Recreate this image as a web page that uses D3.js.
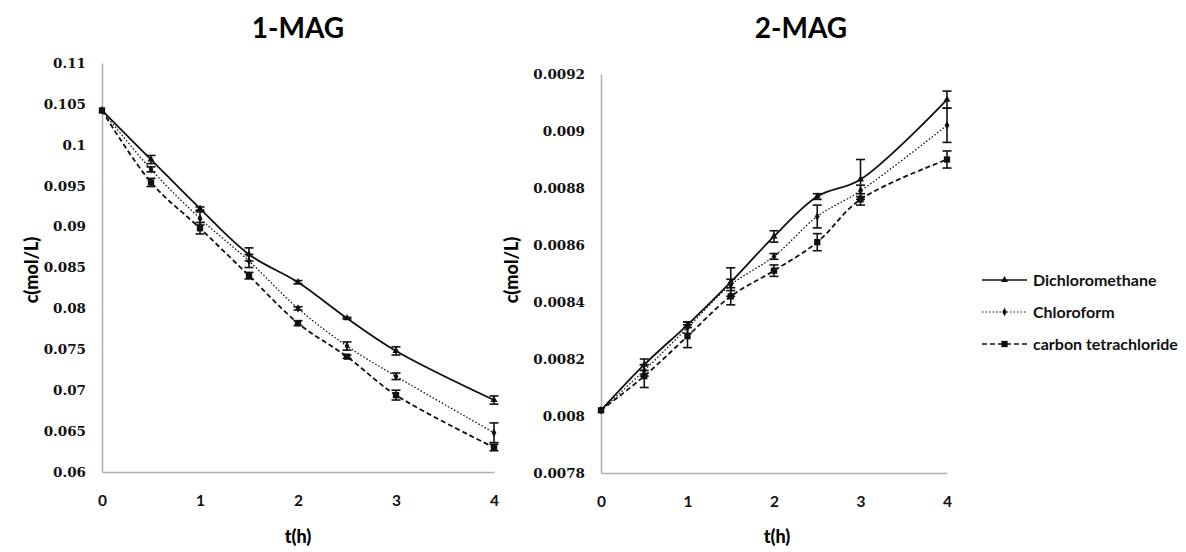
<!DOCTYPE html>
<html>
<head>
<meta charset="utf-8">
<script src="https://cdn.jsdelivr.net/npm/d3@7"></script>
<style>
  body { margin: 0; background: #fff; }
  svg { display: block; }
</style>
</head>
<body>
<div id="chart"></div>
<script>
var W = 1186, H = 552;

// shared time points
var times = [0, 0.5, 1, 1.5, 2, 2.5, 3, 4];
var xTicks = [0, 1, 2, 3, 4];
var seriesNames = ["Dichloromethane", "Chloroform", "carbon tetrachloride"];

// 1-MAG values and error (mol/L)
var mag1Dcm = [0.1042, 0.0982, 0.0922, 0.0866, 0.0832, 0.0788, 0.0748, 0.0688];
var mag1Chl = [0.1042, 0.0970, 0.0910, 0.0858, 0.0800, 0.0754, 0.0717, 0.0648];
var mag1Ctc = [0.1042, 0.0954, 0.0898, 0.0840, 0.0782, 0.0741, 0.0694, 0.0630];
var mag1DcmErr = [0, 0.0005, 0.0002, 0.0008, 0.0002, 0.0001, 0.0005, 0.0005];
var mag1ChlErr = [0, 0.0003, 0.0008, 0.0008, 0.0002, 0.0005, 0.0004, 0.0012];
var mag1CtcErr = [0, 0.0005, 0.0007, 0.0004, 0.0003, 0.0002, 0.0006, 0.0004];
var mag1Ticks = [0.06, 0.065, 0.07, 0.075, 0.08, 0.085, 0.09, 0.095, 0.1, 0.105, 0.11];

// 2-MAG values and error (mol/L)
var mag2Dcm = [0.00802, 0.00818, 0.00832, 0.00847, 0.00863, 0.00877, 0.00883, 0.00911];
var mag2Chl = [0.00802, 0.00816, 0.00831, 0.00846, 0.00856, 0.00870, 0.00879, 0.00902];
var mag2Ctc = [0.00802, 0.00814, 0.00828, 0.00842, 0.00851, 0.00861, 0.00876, 0.00890];
var mag2DcmErr = [0, 0.00002, 0.00001, 0.00005, 0.00002, 0.00001, 0.00007, 0.00003];
var mag2ChlErr = [0, 0.00002, 0.00002, 0.00002, 0.00001, 0.00004, 0.00002, 0.00006];
var mag2CtcErr = [0, 0.00004, 0.00004, 0.00003, 0.00002, 0.00003, 0.00002, 0.00003];
var mag2Ticks = [0.0078, 0.008, 0.0082, 0.0084, 0.0086, 0.0088, 0.009, 0.0092];

var dashes = [null, "1.5,2", "5,3"];
var shapes = [d3.symbolTriangle, d3.symbolDiamond, d3.symbolSquare];
var symSizes = [22, 20, 40];

var svg = d3.select("#chart").append("svg")
	.attr("width", W)
	.attr("height", H);

function drawPanel(opt) {
	var x = d3.scaleLinear().domain([0, 4]).range([opt.x0, opt.x1]);
	var y = d3.scaleLinear().domain(opt.domain).range([opt.y0, opt.y1]);
	var g = svg.append("g");

	// title
	g.append("text")
		.attr("x", opt.titleX)
		.attr("y", 38)
		.attr("text-anchor", "middle")
		.style("font-family", "Lato, 'Open Sans', sans-serif")
		.style("font-weight", "bold")
		.style("font-size", "28px")
		.text(opt.title);

	// axes (grey lines, no ticks)
	var yAxis = g.append("g")
		.attr("transform", "translate(" + opt.x0 + ",0)")
		.call(d3.axisLeft(y).tickValues(opt.ticks).tickSize(0).tickPadding(16)
			.tickFormat(d => String(+d.toPrecision(4))));
	var xAxis = g.append("g")
		.attr("transform", "translate(0," + opt.y0 + ")")
		.call(d3.axisBottom(x).tickValues(xTicks).tickSize(0).tickPadding(23)
			.tickFormat(d3.format("d")));
	[yAxis, xAxis].forEach(function(a) {
		a.select(".domain").attr("stroke", "#b0b0b0").attr("stroke-width", 1.5);
		a.selectAll("text")
			.attr("fill", "#111")
			.style("font-family", "'DejaVu Serif', 'Liberation Serif', serif")
			.style("font-weight", "bold")
			.style("font-size", "13.5px");
	});
	xAxis.selectAll("text")
		.style("font-family", "Lato, 'Open Sans', sans-serif")
		.style("font-size", "15.5px");

	// axis titles
	g.append("text")
		.attr("x", opt.titleX - (opt.title === "2-MAG" ? 24 : 0))
		.attr("y", 543)
		.attr("text-anchor", "middle")
		.style("font-family", "Lato, 'Open Sans', sans-serif")
		.style("font-weight", "900")
		.style("font-size", "18px")
		.text("t(h)");
	g.append("text")
		.attr("transform", "translate(" + opt.yTitleX + ",270) rotate(-90)")
		.attr("text-anchor", "middle")
		.style("font-family", "Lato, 'Open Sans', sans-serif")
		.style("font-weight", "900")
		.style("font-size", "18px")
		.text("c(mol/L)");

	var line = d3.line()
		.x(d => x(d.t))
		.y(d => y(d.v))
		.curve(d3.curveCatmullRom.alpha(0.5));

	opt.series.forEach(function(vals, si) {
		var pts = times.map((t, i) => ({t: t, v: vals[i], e: opt.errs[si][i]}));
		g.append("path")
			.datum(pts)
			.attr("d", line)
			.attr("fill", "none")
			.attr("stroke", "#111")
			.attr("stroke-width", si === 1 ? 1.3 : 1.8)
			.attr("stroke-dasharray", dashes[si]);

		var eb = g.append("g").selectAll("g")
			.data(pts.filter(d => d.e > 0))
			.enter().append("g");
		eb.append("line")
			.attr("x1", d => x(d.t)).attr("x2", d => x(d.t))
			.attr("y1", d => y(d.v - d.e)).attr("y2", d => y(d.v + d.e))
			.attr("stroke", "#111").attr("stroke-width", 1.6);
		[-1, 1].forEach(function(sgn) {
			eb.append("line")
				.attr("x1", d => x(d.t) - 4.5).attr("x2", d => x(d.t) + 4.5)
				.attr("y1", d => y(d.v + sgn * d.e)).attr("y2", d => y(d.v + sgn * d.e))
				.attr("stroke", "#111").attr("stroke-width", 1.6);
		});

		g.append("g").selectAll("path")
			.data(pts)
			.enter().append("path")
			.attr("transform", d => "translate(" + x(d.t) + "," + y(d.v) + ")")
			.attr("d", d3.symbol().type(shapes[si]).size(symSizes[si]))
			.attr("fill", "#111");
	});
}

drawPanel({
	title: "1-MAG", titleX: 298, yTitleX: 38,
	x0: 102, x1: 494, y0: 472, y1: 63,
	domain: [0.06, 0.11], ticks: mag1Ticks,
	series: [mag1Dcm, mag1Chl, mag1Ctc],
	errs: [mag1DcmErr, mag1ChlErr, mag1CtcErr]
});

drawPanel({
	title: "2-MAG", titleX: 801, yTitleX: 518,
	x0: 601, x1: 947, y0: 473, y1: 74,
	domain: [0.0078, 0.0092], ticks: mag2Ticks,
	series: [mag2Dcm, mag2Chl, mag2Ctc],
	errs: [mag2DcmErr, mag2ChlErr, mag2CtcErr]
});

// legend
var legY = [280, 312, 344];
var leg = svg.append("g").selectAll("g")
	.data(seriesNames)
	.enter().append("g")
	.attr("transform", (d, i) => "translate(982," + legY[i] + ")");
leg.append("line")
	.attr("x1", 0).attr("x2", 45).attr("y1", 0).attr("y2", 0)
	.attr("stroke", "#111")
	.attr("stroke-width", (d, i) => i === 1 ? 1.2 : 1.5)
	.attr("stroke-dasharray", (d, i) => dashes[i]);
leg.append("path")
	.attr("transform", "translate(22.5,0)")
	.attr("d", (d, i) => d3.symbol().type(shapes[i]).size(symSizes[i])())
	.attr("fill", "#111");
leg.append("text")
	.attr("x", 51)
	.attr("y", 5.5)
	.style("font-family", "Lato, 'Open Sans', sans-serif")
	.style("font-weight", "bold")
	.style("font-size", "16px")
	.attr("fill", "#111")
	.text(d => d);
</script>
</body>
</html>
